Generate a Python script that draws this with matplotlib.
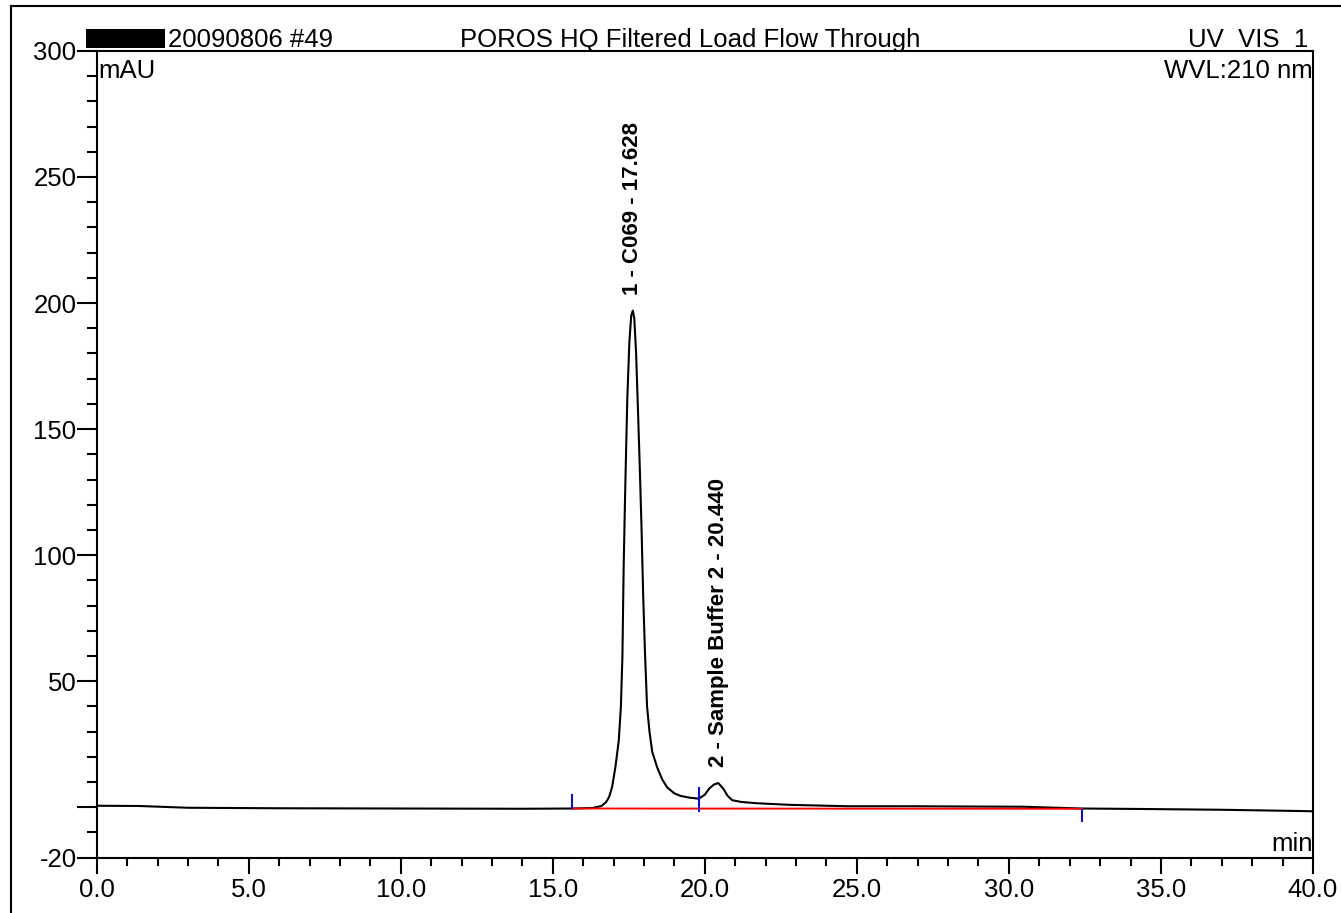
import matplotlib
matplotlib.use("Agg")
import matplotlib.pyplot as plt
from matplotlib.ticker import MultipleLocator, FixedLocator, FixedFormatter
from matplotlib.lines import Line2D
from matplotlib.patches import Rectangle

plt.rcParams['font.family'] = ['Liberation Sans', 'DejaVu Sans']

# chromatogram trace (min, mAU)
time = [0.0, 1.4, 3.0, 6.0, 10.0, 14.0, 15.6, 16.3, 16.6, 16.75, 16.85, 16.95,
        17.06, 17.17, 17.24, 17.29, 17.33, 17.38, 17.45, 17.52, 17.58, 17.63,
        17.68, 17.74, 17.80, 17.86, 17.92, 17.97, 18.03, 18.10, 18.18, 18.27,
        18.43, 18.60, 18.76, 19.0, 19.2, 19.5, 19.8, 20.0, 20.15, 20.3, 20.44,
        20.6, 20.75, 20.9, 21.2, 21.7, 22.8, 24.7, 26.8, 28.5, 30.5, 32.4,
        34.5, 37.0, 39.6, 40.0]
signal = [0.6, 0.5, -0.2, -0.4, -0.5, -0.6, -0.5, -0.3, 0.5, 2.0, 4.0, 8.0,
          16.0, 26.5, 40.0, 60.0, 95.0, 125.0, 162.0, 185.0, 195.0, 197.0,
          194.0, 180.0, 158.0, 135.0, 110.0, 85.0, 62.0, 40.0, 30.0, 22.0,
          15.9, 11.0, 7.9, 5.5, 4.5, 3.8, 3.4, 5.0, 7.5, 9.0, 9.6,
          7.5, 4.5, 2.8, 2.1, 1.6, 0.95, 0.4, 0.4, 0.3, 0.2, -0.5,
          -0.7, -1.0, -1.5, -1.6]

# integration baseline and delimiters
base_t = [15.63, 32.40]
base_v = [-0.5, -0.6]
delim_t = [15.63, 19.80, 32.40]
delim_lo = [-0.6, -2.0, -6.0]
delim_hi = [5.3, 7.9, -0.6]

# peak labels
peak_t = [17.628, 20.440]
peak_y = [203.0, 16.0]
peak_names = ['1 - C069 - 17.628', '2 - Sample Buffer 2 - 20.440']

x_major = [0, 5, 10, 15, 20, 25, 30, 35, 40]
y_major = [-20, 0, 50, 100, 150, 200, 250, 300]
y_labels = ['-20', '', '50', '100', '150', '200', '250', '300']

fig = plt.figure(figsize=(13.41, 9.13), dpi=100)
ax = fig.add_axes([0.0721, 0.0606, 0.907, 0.8836])

ax.plot(time, signal, color='black', linewidth=1.5)
ax.plot(base_t, base_v, color='red', linewidth=1.4)
ax.vlines(delim_t, delim_lo, delim_hi, colors='blue', linewidth=1.4)

for t, y, s in zip(peak_t, peak_y, peak_names):
    ax.text(t, y, s, rotation=90, ha='center', va='bottom',
            fontsize=16, fontweight='bold')

ax.set_xlim(0, 40)
ax.set_ylim(-20, 300)

ax.xaxis.set_major_locator(FixedLocator(x_major))
ax.xaxis.set_major_formatter(FixedFormatter(['%.1f' % v for v in x_major]))
ax.xaxis.set_minor_locator(MultipleLocator(1))
ax.yaxis.set_major_locator(FixedLocator(y_major))
ax.yaxis.set_major_formatter(FixedFormatter(y_labels))
ax.yaxis.set_minor_locator(MultipleLocator(10))

ax.tick_params(axis='x', which='major', direction='out', length=11.5, width=1.5,
               labelsize=18.5, pad=3)
ax.tick_params(axis='x', which='minor', direction='out', length=6, width=1.5)
ax.tick_params(axis='y', which='major', direction='out', length=14.5, width=1.5,
               labelsize=18.5, pad=0)
ax.tick_params(axis='y', which='minor', direction='out', length=7, width=1.5)
for sp in ax.spines.values():
    sp.set_linewidth(1.5)

# header and unit texts
ax.text(0.0583, 1.005, '20090806 #49', transform=ax.transAxes, ha='left',
        va='baseline', fontsize=18.5)
ax.text(0.488, 1.005, 'POROS HQ Filtered Load Flow Through', transform=ax.transAxes,
        ha='center', va='baseline', fontsize=18.5)
ax.text(0.996, 1.005, 'UV_VIS_1', transform=ax.transAxes, ha='right',
        va='baseline', fontsize=18.5)
ax.add_patch(Rectangle((-0.009, 1.004), 0.065, 0.023, transform=ax.transAxes,
                       facecolor='black', edgecolor='none', clip_on=False))
ax.text(0.001, 0.9665, 'mAU', transform=ax.transAxes, ha='left',
        va='baseline', fontsize=18.5)
ax.text(1.0, 0.9665, 'WVL:210 nm', transform=ax.transAxes, ha='right',
        va='baseline', fontsize=18.5)
ax.text(1.0, 0.0087, 'min', transform=ax.transAxes, ha='right',
        va='baseline', fontsize=18.5)

# page frame
fig.add_artist(Line2D([0.0082, 0.0082], [0.0, 0.9929], color='black', linewidth=1.5))
fig.add_artist(Line2D([0.0082, 1.0], [0.9929, 0.9929], color='black', linewidth=1.5))

fig.savefig('out.png', dpi=100)
